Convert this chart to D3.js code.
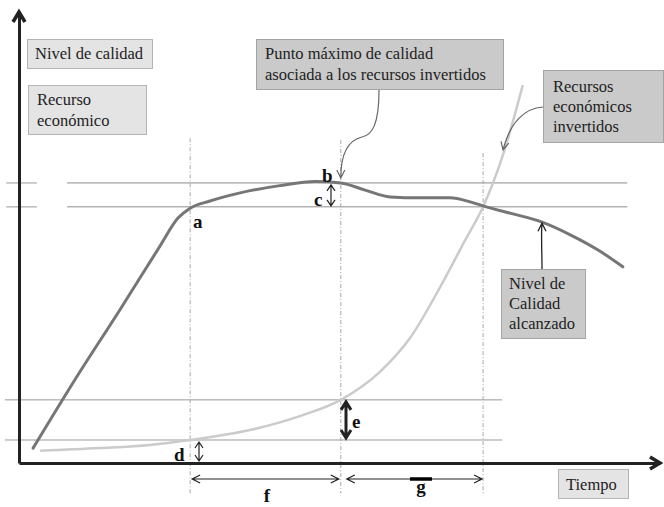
<!DOCTYPE html>
<html>
<head>
<meta charset="utf-8">
<script src="https://cdn.jsdelivr.net/npm/d3@7"></script>
<style>
  body { margin: 0; background: #fff; }
  svg { display: block; }
</style>
</head>
<body>
<script>
// Size
const W = 664, H = 507;

// Data (time units 0-100, level units 0-100)
const QUALITY = [
  [2.2, 3.3], [8.7, 18.4], [15.8, 34.1], [22.0, 48.1], [24.8, 54.3], [26.7, 56.5],
  [29.8, 58.1], [34.5, 59.9], [40.7, 61.5], [46.2, 62.4], [50.2, 62.1], [54.0, 60.5],
  [57.9, 59.0], [62.6, 58.8], [67.2, 58.8], [70.4, 57.9], [72.4, 57.0], [76.6, 55.4],
  [81.6, 53.4], [86.0, 50.6], [90.6, 47.0], [94.2, 43.5]
];
const RESOURCES = [
  [3.3, 2.7], [12.6, 3.3], [20.4, 4.0], [26.7, 5.1], [36.0, 7.3], [43.8, 10.4],
  [50.2, 14.0], [56.3, 20.2], [61.0, 27.7], [65.7, 39.0], [69.6, 49.4], [72.4, 56.8],
  [75.5, 68.3], [78.6, 83.8]
];
const TIME_MARKS  = [26.7, 50.2, 72.4];   // a, b, crossing
const MARK_TOPS   = [72.0, 71.6, 68.7];
const HIGH_LEVELS = [62.1, 56.8];         // b, a
const LOW_LEVELS  = [14.0, 5.1];          // e, d

// Colors
const FG   = '#222';
const Q_C  = '#767676';
const R_C  = '#cbcbcb';
const BOX1 = '#e4e4e4';
const BOX2 = '#cacaca';
const SERIF = "'Liberation Serif', 'DejaVu Serif', serif";

// Scales
const x = d3.scaleLinear().domain([0, 100]).range([19, 660]);
const y = d3.scaleLinear().domain([0, 100]).range([463, 12]);

const svg = d3.select('body').append('svg')
  .attr('width', W)
  .attr('height', H)
  .attr('font-family', SERIF);

svg.append('rect').attr('width', W).attr('height', H).attr('fill', '#fff');

// chevron head helper
function head(tx, ty, ang, s, w) {
  const c = Math.cos(ang), sn = Math.sin(ang);
  const bx = tx - s * c, by = ty - s * sn;
  return `M${bx - w * sn},${by + w * c}L${tx},${ty}L${bx + w * sn},${by - w * c}`;
}
function dblArrow(x1, y1, x2, y2, s, w, sw) {
  const ang = Math.atan2(y2 - y1, x2 - x1);
  svg.append('path')
    .attr('d', `M${x1},${y1}L${x2},${y2}` + head(x2, y2, ang, s, w) + head(x1, y1, ang + Math.PI, s, w))
    .attr('fill', 'none')
    .attr('stroke', FG)
    .attr('stroke-width', sw);
}

// Reference levels
svg.append('g').selectAll('line.hi')
  .data(HIGH_LEVELS).join('line')
  .attr('x1', x(7.5)).attr('x2', x(94.9))
  .attr('y1', d => y(d)).attr('y2', d => y(d))
  .attr('stroke', '#8c8c8c').attr('stroke-width', 1);
svg.append('g').selectAll('line.stub')
  .data(HIGH_LEVELS).join('line')
  .attr('x1', x(-2.0)).attr('x2', x(2.8))
  .attr('y1', d => y(d)).attr('y2', d => y(d))
  .attr('stroke', '#bbb').attr('stroke-width', 1.5);
svg.append('g').selectAll('line.lo')
  .data(LOW_LEVELS).join('line')
  .attr('x1', x(-2.2)).attr('x2', x(75.4))
  .attr('y1', d => y(d)).attr('y2', d => y(d))
  .attr('stroke', '#9a9a9a').attr('stroke-width', 1);

// Dashed time marks
svg.append('g').selectAll('line')
  .data(TIME_MARKS).join('line')
  .attr('x1', d => x(d)).attr('x2', d => x(d))
  .attr('y1', (d, i) => y(MARK_TOPS[i])).attr('y2', y(-6.7))
  .attr('stroke', '#a8a8a8').attr('stroke-width', 1)
  .attr('stroke-dasharray', '4,2,1,2');

// Curves
const line = d3.line().x(d => x(d[0])).y(d => y(d[1])).curve(d3.curveMonotoneX);
svg.append('path').datum(RESOURCES)
  .attr('d', line).attr('fill', 'none')
  .attr('stroke', R_C).attr('stroke-width', 2.5);
svg.append('path').datum(QUALITY)
  .attr('d', line).attr('fill', 'none')
  .attr('stroke', Q_C).attr('stroke-width', 3).attr('stroke-linecap', 'round');

// Axes
const axes = svg.append('g').attr('stroke', FG);
axes.append('g')
  .attr('transform', `translate(${x(0)},0)`)
  .call(d3.axisLeft(y).tickValues([]).tickSizeOuter(0))
  .call(g => g.select('.domain').attr('stroke', FG).attr('stroke-width', 3));
axes.append('g')
  .attr('transform', `translate(0,${y(0)})`)
  .call(d3.axisBottom(x).tickValues([]).tickSizeOuter(0))
  .call(g => g.select('.domain').attr('stroke', FG).attr('stroke-width', 3));
axes.append('path')
  .attr('d', head(x(0), y(100), -Math.PI / 2, 10, 6) + head(x(100), y(0), 0, 10, 6))
  .attr('fill', 'none').attr('stroke-width', 3.5);

// Boxes
function box(bx, by, bw, bh, fill, stroke, lines, tx, ty0, lh) {
  svg.append('rect')
    .attr('x', bx).attr('y', by).attr('width', bw).attr('height', bh)
    .attr('fill', fill).attr('stroke', stroke).attr('stroke-width', 1);
  svg.append('g').selectAll('text')
    .data(lines).join('text')
    .attr('x', tx).attr('y', (d, i) => ty0 + i * lh)
    .attr('font-size', '16.5px').attr('fill', FG)
    .text(d => d);
}
box(27.5, 39.5, 125, 29, BOX1, '#b4b4b4', ['Nivel de calidad'], 35, 59, 20);
box(28.5, 85.5, 118, 49, BOX1, '#b4b4b4', ['Recurso', 'económico'], 37, 105, 21);
box(256.5, 39.5, 247, 50, BOX2, '#a4a4a4', ['Punto máximo de calidad', 'asociada a los recursos invertidos'], 265, 59, 21);
box(543.5, 70.5, 120, 72, BOX2, '#a4a4a4', ['Recursos', 'económicos', 'invertidos'], 553, 92, 20);
box(501.5, 269.5, 84, 69, BOX2, '#a4a4a4', ['Nivel de', 'Calidad', 'alcanzado'], 509, 289, 20);
box(558.5, 469.5, 70, 29, BOX1, '#b4b4b4', ['Tiempo'], 566, 490, 20);

// Callout arrows
const bx = x(TIME_MARKS[1]), by = y(HIGH_LEVELS[0]);
svg.append('path')
  .attr('d', `M379,90C379,125 372,135 362,137C345,141 ${bx},160 ${bx},${by - 5}` + head(bx, by - 5, Math.PI / 2, 8, 4))
  .attr('fill', 'none').attr('stroke', '#666').attr('stroke-width', 1.2);
svg.append('path')
  .attr('d', 'M543,107C525,108 510,122 503,150' + head(503, 150, Math.atan2(28, -7), 8, 4))
  .attr('fill', 'none').attr('stroke', '#666').attr('stroke-width', 1.2);
svg.append('path')
  .attr('d', `M542,269C542,250 541,235 542,${y(53.4) + 1}` + head(542, y(53.4) + 1, -Math.PI / 2, 8, 4))
  .attr('fill', 'none').attr('stroke', FG).attr('stroke-width', 1.3);

// Measurement arrows
dblArrow(331, y(HIGH_LEVELS[0]) + 2, 331, y(HIGH_LEVELS[1]) - 1, 6, 4, 1.2);
dblArrow(199, y(LOW_LEVELS[1]) + 2, 199, y(0) - 2, 6, 4, 1.2);
dblArrow(346, y(LOW_LEVELS[0]) + 2, 346, y(LOW_LEVELS[1]) - 2, 8, 5, 3);
dblArrow(x(TIME_MARKS[0]) + 2, 479, x(TIME_MARKS[1]) - 2, 479, 8, 4, 1.2);
dblArrow(x(TIME_MARKS[1]) + 6, 479, x(TIME_MARKS[2]) - 1, 479, 8, 4, 1.2);
svg.append('line')
  .attr('x1', 410).attr('x2', 432).attr('y1', 479).attr('y2', 479)
  .attr('stroke', '#000').attr('stroke-width', 3.5);

// Letter labels
const LABELS = [
  ['a', 193, 228, 'start'], ['b', 322, 182, 'start'], ['c', 314, 206, 'start'],
  ['d', 174, 461, 'start'], ['e', 352, 428, 'start'], ['f', 267, 502, 'middle'],
  ['g', 421, 493, 'middle']
];
svg.append('g').selectAll('text')
  .data(LABELS).join('text')
  .attr('x', d => d[1]).attr('y', d => d[2])
  .attr('text-anchor', d => d[3])
  .attr('font-size', '19px').attr('font-weight', 'bold').attr('fill', '#111')
  .text(d => d[0]);
</script>
</body>
</html>
